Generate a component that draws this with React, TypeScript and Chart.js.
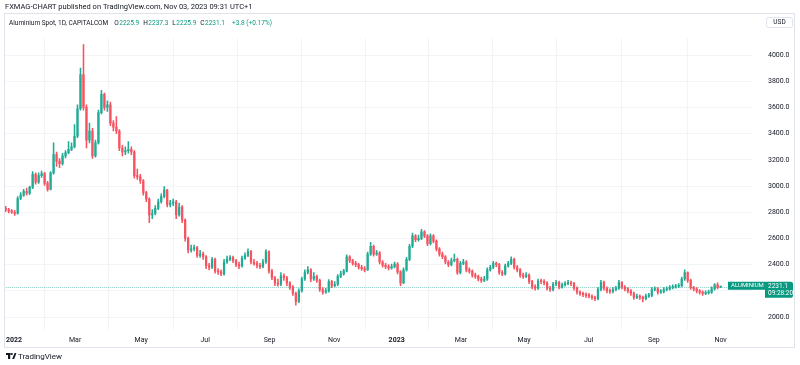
import React, { useEffect, useRef } from 'react';
import { Chart, registerables } from 'chart.js';

Chart.register(...registerables);

// ---- data (each candle = 2 trading days) ----
const startOpen = 2830;
const closes = [
  2820, 2810, 2800, 2790, 2905, 2930, 2960, 2945, 2990, 3090,
  3030, 3080, 3095, 3020, 2975, 3100, 3240, 3190, 3170, 3230,
  3255, 3280, 3300, 3380, 3590, 3850, 3600, 3350, 3420, 3230,
  3330, 3560, 3700, 3600, 3620, 3480, 3450, 3420, 3290, 3260,
  3270, 3280, 3260, 3080, 3070, 3040, 2950, 2900, 2780, 2790,
  2830, 2880, 2920, 2970, 2860, 2870, 2880, 2780, 2840, 2740,
  2600, 2510, 2520, 2530, 2470, 2480, 2460, 2390, 2380, 2440,
  2350, 2345, 2330, 2420, 2440, 2455, 2430, 2400, 2390, 2450,
  2470, 2500, 2420, 2410, 2395, 2385, 2420, 2500, 2350, 2300,
  2260, 2250, 2315, 2300, 2260, 2230, 2180, 2120, 2200, 2290,
  2340, 2360, 2290, 2310, 2280, 2210, 2190, 2200, 2270, 2240,
  2250, 2310, 2330, 2350, 2460, 2430, 2410, 2400, 2380, 2370,
  2360, 2480, 2540, 2480, 2490, 2420, 2395, 2385, 2375, 2385,
  2405, 2345, 2260, 2360, 2440, 2540, 2620, 2590, 2600, 2650,
  2620, 2560, 2620, 2580, 2520, 2480, 2460, 2420, 2400, 2430,
  2440, 2340, 2410, 2420, 2360, 2350, 2320, 2310, 2290, 2280,
  2290, 2360, 2380, 2410, 2400, 2340, 2330, 2390, 2410, 2440,
  2380, 2360, 2320, 2310, 2320, 2270, 2230, 2220, 2275, 2270,
  2260, 2220, 2210, 2250, 2265, 2230, 2245, 2255, 2260, 2255,
  2220, 2190, 2180, 2170, 2165, 2160, 2150, 2140, 2210, 2265,
  2220, 2200, 2195, 2210, 2220, 2265, 2230, 2215, 2200, 2180,
  2150, 2160, 2150, 2140, 2160, 2165, 2210, 2215, 2190, 2195,
  2210, 2215, 2225, 2230, 2235, 2240, 2290, 2340, 2280, 2225,
  2215, 2200, 2190, 2180, 2185, 2190, 2215, 2245, 2225.9, 2231.1,
];
const highs = [
  2845, 2830, 2820, 2815, 2920, 2950, 2975, 2985, 3000, 3110,
  3100, 3100, 3115, 3105, 3035, 3110, 3330, 3260, 3210, 3250,
  3270, 3340, 3330, 3470, 3620, 3900, 4080, 3620, 3480, 3440,
  3350, 3580, 3730, 3710, 3650, 3640, 3500, 3530, 3430, 3310,
  3300, 3340, 3300, 3270, 3130, 3090, 3050, 2960, 2910, 2820,
  2850, 2900, 2940, 2995, 2975, 2890, 2900, 2890, 2870, 2850,
  2750, 2610, 2550, 2550, 2540, 2510, 2495, 2470, 2410, 2455,
  2450, 2370, 2360, 2440, 2465, 2470, 2465, 2440, 2420, 2465,
  2490, 2520, 2510, 2440, 2425, 2410, 2440, 2515, 2505, 2365,
  2310, 2290, 2340, 2330, 2310, 2270, 2240, 2190, 2215, 2305,
  2360, 2385, 2370, 2340, 2320, 2290, 2225, 2220, 2285, 2280,
  2270, 2325, 2350, 2365, 2475, 2470, 2440, 2425, 2410, 2395,
  2385, 2495, 2570, 2550, 2510, 2500, 2430, 2410, 2400, 2405,
  2420, 2415, 2355, 2375, 2455, 2555, 2640, 2630, 2625, 2670,
  2660, 2630, 2635, 2630, 2590, 2530, 2495, 2470, 2430, 2450,
  2480, 2450, 2425, 2440, 2430, 2375, 2360, 2335, 2320, 2305,
  2310, 2375, 2395, 2425, 2420, 2410, 2355, 2405, 2425, 2460,
  2450, 2395, 2370, 2335, 2340, 2330, 2280, 2245, 2290, 2290,
  2285, 2270, 2235, 2265, 2280, 2275, 2260, 2270, 2280, 2275,
  2265, 2230, 2200, 2190, 2185, 2180, 2170, 2160, 2225, 2280,
  2275, 2230, 2215, 2225, 2235, 2280, 2270, 2240, 2225, 2210,
  2190, 2175, 2170, 2160, 2175, 2180, 2225, 2230, 2225, 2210,
  2225, 2230, 2240, 2245, 2250, 2255, 2305, 2360, 2345, 2290,
  2235, 2225, 2210, 2200, 2200, 2205, 2230, 2255, 2262, 2237.3,
];
const lows = [
  2805, 2795, 2790, 2775, 2785, 2895, 2920, 2930, 2935, 2980,
  3015, 3020, 3065, 3005, 2960, 2970, 3090, 3150, 3140, 3160,
  3215, 3245, 3270, 3290, 3370, 3580, 3580, 3290, 3330, 3210,
  3220, 3320, 3550, 3580, 3570, 3460, 3420, 3400, 3270, 3230,
  3240, 3250, 3240, 3060, 3050, 3020, 2930, 2880, 2720, 2750,
  2780, 2820, 2870, 2910, 2840, 2840, 2850, 2750, 2770, 2720,
  2580, 2490, 2495, 2505, 2455, 2455, 2440, 2370, 2360, 2370,
  2335, 2325, 2315, 2320, 2410, 2430, 2415, 2385, 2370, 2380,
  2440, 2460, 2405, 2395, 2375, 2370, 2375, 2410, 2335, 2285,
  2240, 2235, 2240, 2280, 2240, 2210, 2165, 2090, 2110, 2190,
  2280, 2330, 2270, 2280, 2265, 2195, 2175, 2180, 2190, 2225,
  2230, 2240, 2300, 2320, 2345, 2415, 2395, 2385, 2365, 2355,
  2345, 2355, 2470, 2465, 2470, 2405, 2380, 2370, 2360, 2365,
  2375, 2330, 2240, 2255, 2350, 2430, 2530, 2575, 2580, 2590,
  2605, 2545, 2550, 2565, 2505, 2465, 2445, 2405, 2385, 2390,
  2420, 2325, 2330, 2400, 2345, 2335, 2305, 2295, 2275, 2265,
  2270, 2280, 2350, 2370, 2385, 2325, 2315, 2320, 2380, 2400,
  2365, 2345, 2305, 2295, 2300, 2255, 2215, 2205, 2210, 2255,
  2245, 2205, 2195, 2200, 2240, 2215, 2220, 2235, 2245, 2240,
  2205, 2175, 2165, 2155, 2150, 2145, 2135, 2125, 2130, 2200,
  2205, 2185, 2180, 2185, 2200, 2210, 2215, 2200, 2185, 2165,
  2135, 2140, 2135, 2115, 2130, 2150, 2155, 2200, 2175, 2180,
  2185, 2200, 2205, 2215, 2220, 2225, 2230, 2280, 2265, 2210,
  2200, 2185, 2175, 2165, 2170, 2175, 2180, 2205, 2215, 2225.9,
];

const timeTickIndex = [2.8, 23.2, 45.3, 66.7, 88.2, 109.8, 130.7, 152.2, 173.3, 194.9, 216.7, 239.0];
const timeTickLabels = ['2022', 'Mar', 'May', 'Jul', 'Sep', 'Nov', '2023', 'Mar', 'May', 'Jul', 'Sep', 'Nov'];
const priceTicks = [2000, 2200, 2400, 2600, 2800, 3000, 3200, 3400, 3600, 3800, 4000];

const lastPrice = 2231.1;
const lastPriceText = '2231.1';
const countdownText = '09:28:20';
const symbolText = 'ALUMINIUM';
const titleText = 'FXMAG-CHART published on TradingView.com, Nov 03, 2023 09:31 UTC+1';
const legendTitle = 'Aluminium Spot, 1D, CAPITALCOM';
const legendKeys = ['O', 'H', 'L', 'C'];
const legendValues = ['2225.9', '2237.3', '2225.9', '2231.1'];
const legendChange = '+3.8 (+0.17%)';

const UP = '#22ab94';
const DOWN = '#f7525f';
const TEXT = '#131722';
const GREEN = '#089981';
const FONT = 'Roboto, "Open Sans", sans-serif';

export default function App() {
  const ref = useRef<HTMLCanvasElement>(null);

  useEffect(() => {
    const canvas = ref.current!;
    const opens = closes.map((c, i) => (i === 0 ? startOpen : closes[i - 1]));
    const colors = closes.map((c, i) => (c >= opens[i] ? UP : DOWN));

    const decor = {
      id: 'tvDecor',
      beforeDraw(chart: any) {
        const ctx = chart.ctx;
        ctx.save();
        ctx.fillStyle = '#ffffff';
        ctx.fillRect(0, 0, chart.width, chart.height);
        ctx.restore();
      },
      beforeDatasetsDraw(chart: any) {
        const ctx = chart.ctx;
        const ca = chart.chartArea;
        const py = Math.round(chart.scales.y.getPixelForValue(lastPrice)) + 0.5;
        ctx.save();
        ctx.strokeStyle = 'rgba(8,153,129,0.5)';
        ctx.lineWidth = 1;
        ctx.setLineDash([1, 1]);
        ctx.beginPath();
        ctx.moveTo(ca.left, py);
        ctx.lineTo(ca.right, py);
        ctx.stroke();
        ctx.restore();
      },
      afterDraw(chart: any) {
        const ctx = chart.ctx;
        ctx.save();
        // frame
        ctx.strokeStyle = '#e0e3eb';
        ctx.lineWidth = 1;
        ctx.strokeRect(4.5, 13.5, 790, 334);

        // title
        ctx.fillStyle = TEXT;
        ctx.textBaseline = 'middle';
        ctx.textAlign = 'left';
        ctx.font = `7.5px ${FONT}`;
        ctx.fillText(titleText, 5, 7);

        // legend (laid out sequentially)
        ctx.font = `6.5px ${FONT}`;
        let lx = 9;
        ctx.fillStyle = TEXT;
        ctx.fillText(legendTitle, lx, 23);
        lx += ctx.measureText(legendTitle).width + 6;
        legendKeys.forEach((k, i) => {
          ctx.fillStyle = TEXT;
          ctx.fillText(k, lx, 23);
          lx += ctx.measureText(k).width + 0.5;
          ctx.fillStyle = GREEN;
          ctx.fillText(legendValues[i], lx, 23);
          lx += ctx.measureText(legendValues[i]).width + 4;
        });
        lx += 3;
        ctx.fillStyle = GREEN;
        ctx.fillText(legendChange, lx, 23);

        // USD box
        ctx.strokeStyle = '#e0e3eb';
        ctx.beginPath();
        ctx.roundRect(766.5, 17.5, 26, 10, 2);
        ctx.stroke();
        ctx.fillStyle = TEXT;
        ctx.font = `6.5px ${FONT}`;
        ctx.textAlign = 'center';
        ctx.fillText('USD', 779.5, 22.5);

        // last price label
        const py = chart.scales.y.getPixelForValue(lastPrice);
        ctx.fillStyle = GREEN;
        ctx.fillRect(728, py - 5, 37, 8);
        ctx.beginPath();
        ctx.roundRect(765, py - 5, 28, 16, [0, 2, 2, 0]);
        ctx.fill();
        ctx.fillStyle = '#ffffff';
        ctx.font = `6px ${FONT}`;
        ctx.textAlign = 'left';
        ctx.fillText(symbolText, 731, py - 0.8);
        ctx.font = `6.5px ${FONT}`;
        ctx.fillText(lastPriceText, 768, py - 0.8);
        ctx.fillText(countdownText, 768, py + 7);

        // TradingView logo
        ctx.fillStyle = TEXT;
        ctx.fillRect(6, 353, 4.5, 2);
        ctx.fillRect(8, 353, 2.2, 6);
        ctx.beginPath();
        ctx.arc(11.8, 354, 1.1, 0, Math.PI * 2);
        ctx.fill();
        ctx.beginPath();
        ctx.moveTo(12.2, 359);
        ctx.lineTo(14.6, 353);
        ctx.lineTo(16.4, 353);
        ctx.lineTo(14.2, 359);
        ctx.closePath();
        ctx.fill();
        ctx.font = `8px ${FONT}`;
        ctx.textAlign = 'left';
        ctx.fillText('TradingView', 18, 356.5);
        ctx.restore();
      },
    };

    const chart = new Chart(canvas, {
      type: 'bar',
      data: {
        datasets: [
          {
            data: closes.map((_, i) => ({ x: i, y: [lows[i], highs[i]] })) as any,
            backgroundColor: colors,
            barThickness: 0.9,
            grouped: false,
            order: 2,
          } as any,
          {
            data: closes.map((c, i) => ({ x: i, y: [opens[i], c] })) as any,
            backgroundColor: colors,
            barThickness: 1.6,
            grouped: false,
            minBarLength: 1,
            order: 1,
          } as any,
        ],
      },
      options: {
        animation: false,
        responsive: false,
        devicePixelRatio: 1,
        layout: { padding: { top: 38, left: 4, right: 0, bottom: 17 } },
        plugins: { legend: { display: false }, tooltip: { enabled: false } },
        scales: {
          x: {
            type: 'linear',
            min: -0.5,
            max: 249.5,
            offset: false,
            afterBuildTicks: (s: any) => {
              s.ticks = timeTickIndex.map((v) => ({ value: v }));
            },
            afterFit: (s: any) => {
              s.height = 18;
            },
            ticks: {
              autoSkip: false,
              maxRotation: 0,
              padding: 6,
              color: TEXT,
              font: (c: any) => {
                const lbl = timeTickLabels[c.index] || '';
                return { family: FONT, size: 7, weight: lbl.startsWith('20') ? 'bold' : 'normal' };
              },
              callback: (_v: any, idx: number) => timeTickLabels[idx],
            },
            grid: { color: '#f3f4f8', drawTicks: false },
            border: { display: false },
          },
          y: {
            position: 'right',
            min: 1901,
            max: 4130,
            afterBuildTicks: (s: any) => {
              s.ticks = priceTicks.map((v) => ({ value: v }));
            },
            afterFit: (s: any) => {
              s.width = 48;
            },
            ticks: {
              padding: 16,
              color: TEXT,
              font: { family: FONT, size: 7 },
              callback: (v: any) => Number(v).toFixed(1),
            },
            grid: { color: '#f3f4f8', drawTicks: false },
            border: { display: false },
          },
        },
      } as any,
      plugins: [decor],
    });
    return () => chart.destroy();
  }, []);

  return (
    <div style={{ position: 'fixed', left: 0, top: 0, width: 800, height: 365, background: '#fff' }}>
      <canvas ref={ref} width={800} height={365} style={{ display: 'block' }} />
    </div>
  );
}
